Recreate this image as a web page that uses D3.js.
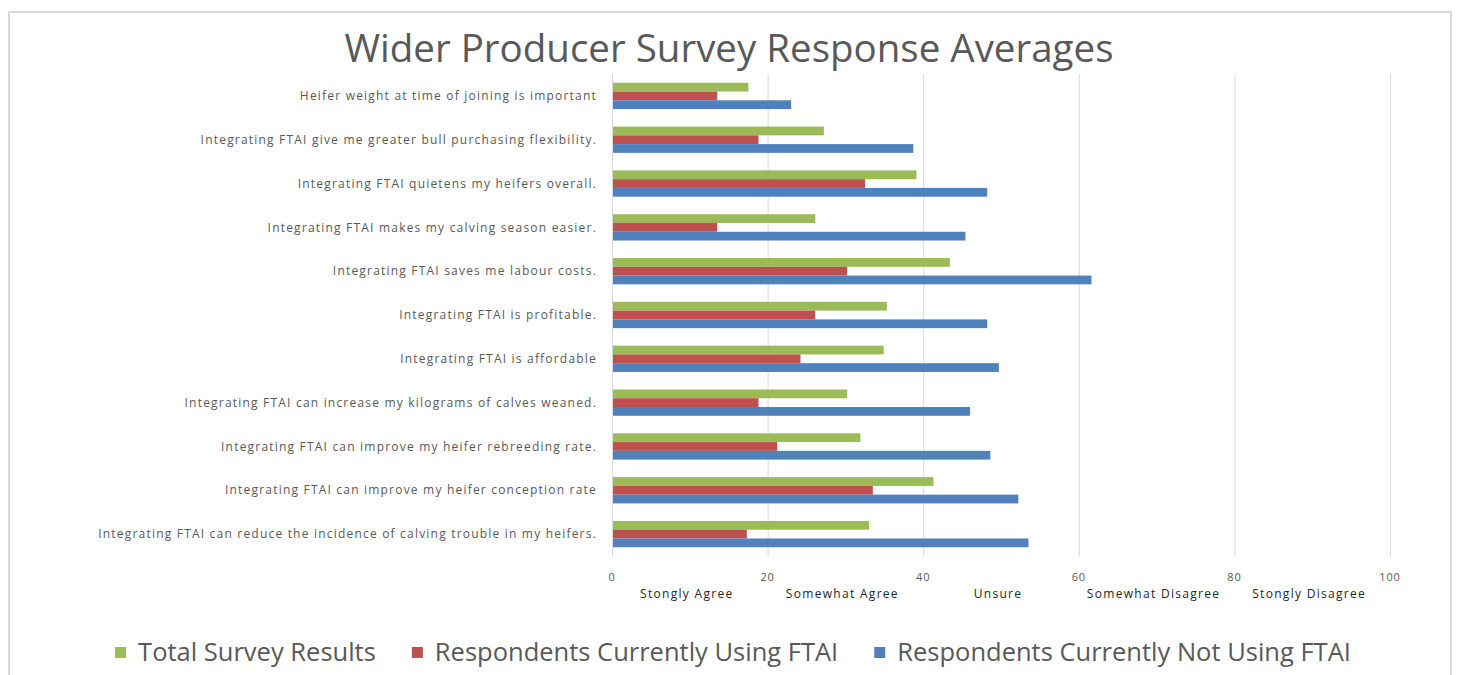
<!DOCTYPE html>
<html>
<head>
<meta charset="utf-8">
<script src="https://cdnjs.cloudflare.com/ajax/libs/d3/7.8.5/d3.min.js"></script>
<style>
  body { margin: 0; background: #fff; }
  text { font-family: "Open Sans", "DejaVu Sans", sans-serif; }
</style>
</head>
<body>
<div id="chart"></div>
<script>
// Survey statements, top to bottom
const statements = [
    "Heifer weight at time of joining is important",
    "Integrating FTAI give me greater bull purchasing flexibility.",
    "Integrating FTAI quietens my heifers overall.",
    "Integrating FTAI makes my calving season easier.",
    "Integrating FTAI saves me labour costs.",
    "Integrating FTAI is profitable.",
    "Integrating FTAI is affordable",
    "Integrating FTAI can increase my kilograms of calves weaned.",
    "Integrating FTAI can improve my heifer rebreeding rate.",
    "Integrating FTAI can improve my heifer conception rate",
    "Integrating FTAI can reduce the incidence of calving trouble in my heifers."
];

const seriesNames = ["Total Survey Results", "Respondents Currently Using FTAI", "Respondents Currently Not Using FTAI"];
const totalValues   = [17.4, 27.1, 39.0, 26.0, 43.3, 35.2, 34.8, 30.1, 31.8, 41.2, 32.9];
const usingValues   = [13.4, 18.7, 32.4, 13.4, 30.1, 26.0, 24.1, 18.7, 21.1, 33.4, 17.2];
const notUsingValues = [22.9, 38.6, 48.1, 45.3, 61.5, 48.1, 49.6, 45.9, 48.5, 52.1, 53.4];

const xTicks = [0, 20, 40, 60, 80, 100];
const scaleLabels = ["Stongly Agree", "Somewhat Agree", "Unsure", "Somewhat Disagree", "Stongly Disagree"];

const colors = ["#9bbb59", "#c0504d", "#4f81bd"];

const W = 1458, H = 675;
const svg = d3.select("#chart").append("svg")
    .attr("width", W)
    .attr("height", H);

// outer frame
svg.append("rect")
    .attr("x", 9).attr("y", 12)
    .attr("width", 1442).attr("height", 700)
    .attr("fill", "#fff")
    .attr("stroke", "#d9d9d9")
    .attr("stroke-width", 2);

const plot = { left: 612, right: 1390, top: 74, bottom: 556 };

const x = d3.scaleLinear()
    .domain([0, 100])
    .range([plot.left, plot.right]);

const y = d3.scaleBand()
    .domain(statements)
    .range([plot.top, plot.bottom])
    .paddingInner(0.4)
    .paddingOuter(0.2);

const sub = d3.scaleBand()
    .domain([0, 1, 2])
    .range([0, y.bandwidth()]);

// gridlines
svg.append("g")
    .selectAll("line")
    .data(xTicks)
    .join("line")
    .attr("x1", d => x(d) + 0.5)
    .attr("x2", d => x(d) + 0.5)
    .attr("y1", plot.top)
    .attr("y2", plot.bottom)
    .attr("stroke", "#d9d9d9")
    .attr("stroke-width", 1);

// bars
const series = [totalValues, usingValues, notUsingValues];
series.forEach((vals, s) => {
    svg.append("g")
        .selectAll("rect")
        .data(vals)
        .join("rect")
        .attr("x", x(0) + 1)
        .attr("y", (d, i) => y(statements[i]) + sub(s))
        .attr("width", d => x(d) - x(0))
        .attr("height", sub.bandwidth())
        .attr("fill", colors[s]);
});

// category labels on the left
svg.append("g")
    .selectAll("text")
    .data(statements)
    .join("text")
    .attr("x", plot.left - 15)
    .attr("y", d => y(d) + y.bandwidth() / 2)
    .attr("dy", "0.35em")
    .attr("text-anchor", "end")
    .attr("font-size", "12px")
    .attr("letter-spacing", "1.2px")
    .attr("fill", "#595959")
    .text(d => d);

// x tick labels
svg.append("g")
    .selectAll("text")
    .data(xTicks)
    .join("text")
    .attr("x", d => x(d))
    .attr("y", 581)
    .attr("text-anchor", "middle")
    .attr("font-size", "11px")
    .attr("letter-spacing", "0.8px")
    .attr("fill", "#595959")
    .text(d => d);

// agreement scale labels, centred in each 20-point band
svg.append("g")
    .selectAll("text")
    .data(scaleLabels)
    .join("text")
    .attr("x", (d, i) => x(i * 20 + 10) - 3)
    .attr("y", 598)
    .attr("text-anchor", "middle")
    .attr("font-size", "12px")
    .attr("letter-spacing", "1.3px")
    .attr("fill", "#262626")
    .text(d => d);

// title
svg.append("text")
    .attr("x", 729)
    .attr("y", 62)
    .attr("text-anchor", "middle")
    .attr("font-size", "38.5px")
    .attr("fill", "#595959")
    .text("Wider Producer Survey Response Averages");

// legend
const legend = svg.append("g");
let lx = 0;
seriesNames.forEach((name, i) => {
    const g = legend.append("g").attr("transform", `translate(${lx},0)`);
    g.append("rect")
        .attr("x", 0).attr("y", -5)
        .attr("width", 11).attr("height", 11)
        .attr("fill", colors[i]);
    const t = g.append("text")
        .attr("x", 23)
        .attr("y", 0)
        .attr("dy", "0.35em")
        .attr("font-size", "25.5px")
        .attr("fill", "#595959")
        .text(name);
    lx += 23 + t.node().getComputedTextLength() + 36;
});
const legendWidth = lx - 36;
legend.attr("transform", `translate(${733 - legendWidth / 2},652)`);
</script>
</body>
</html>
